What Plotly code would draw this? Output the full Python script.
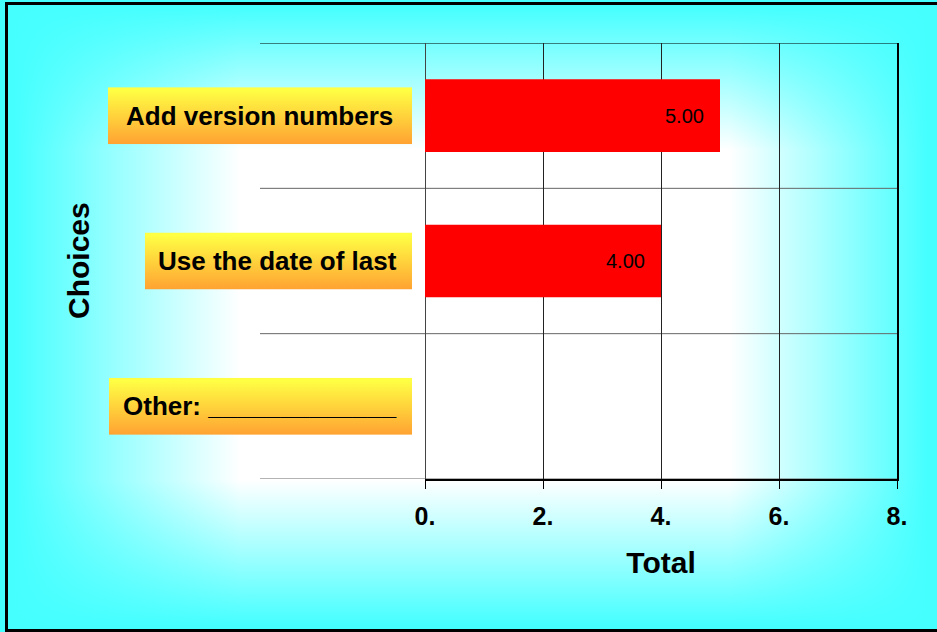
import base64
import plotly.graph_objects as go

# data
choices = ["Add version numbers", "Use the date of last", "Other: _____________"]
totals = [5, 4, 0]
x_ticks = [0, 2, 4, 6, 8]
x_tick_text = ["0.", "2.", "4.", "6.", "8."]

W, H = 937, 632
L, R, T, B = 425, 897, 43, 479          # plot area in pixels
PW, PH = R - L, B - T
FONT = "Liberation Sans, Arial, sans-serif"
CYAN = "#45FFFF"


def px(x):
    return (x - L) / PW


def py(y):
    return (B - y) / PH


def svg_uri(svg):
    return "data:image/svg+xml;base64," + base64.b64encode(svg.encode()).decode()


# white centre fading to cyan towards every edge
ix0, iy0, ix1, iy1 = 240, 150, 730, 480
bg_svg = f"""<svg xmlns="http://www.w3.org/2000/svg" width="{W}" height="{H}" viewBox="0 0 {W} {H}" preserveAspectRatio="none">
<defs>
<linearGradient id="gv" gradientUnits="userSpaceOnUse" x1="0" y1="0" x2="0" y2="{H}">
<stop offset="0.01" stop-color="{CYAN}"/><stop offset="{iy0 / H:.3f}" stop-color="#FFFFFF"/>
<stop offset="{iy1 / H:.3f}" stop-color="#FFFFFF"/><stop offset="0.99" stop-color="{CYAN}"/></linearGradient>
<linearGradient id="gh" gradientUnits="userSpaceOnUse" x1="0" y1="0" x2="{W}" y2="0">
<stop offset="0.015" stop-color="{CYAN}" stop-opacity="1"/><stop offset="{ix0 / W:.3f}" stop-color="{CYAN}" stop-opacity="0"/>
<stop offset="{ix1 / W:.3f}" stop-color="{CYAN}" stop-opacity="0"/><stop offset="0.99" stop-color="{CYAN}" stop-opacity="1"/></linearGradient>
</defs>
<rect x="0" y="0" width="{W}" height="{H}" fill="url(#gv)"/>
<rect x="0" y="0" width="{W}" height="{H}" fill="url(#gh)"/>
</svg>"""

box_svg = """<svg xmlns="http://www.w3.org/2000/svg" width="100" height="100" viewBox="0 0 100 100" preserveAspectRatio="none">
<defs><linearGradient id="g" x1="0" y1="0" x2="0" y2="1"><stop offset="0.05" stop-color="#FFFF44"/><stop offset="1" stop-color="#FFA232"/></linearGradient></defs>
<rect x="0" y="0" width="100" height="100" fill="url(#g)"/></svg>"""

n = len(choices)
ypos = [n - 1 - i for i in range(n)]
cat_px = PH / n
box_right = 412
box_widths = [304, 267, 303]
box_h = 57

fig = go.Figure()
fig.add_trace(go.Bar(
    x=totals, y=ypos, orientation="h", width=0.5,
    marker=dict(color="#FF0000", line=dict(width=0)),
    hoverinfo="skip", showlegend=False,
))

images = [dict(source=svg_uri(bg_svg), xref="paper", yref="paper",
               x=px(0), y=py(0), sizex=W / PW, sizey=H / PH,
               xanchor="left", yanchor="top", sizing="stretch", layer="below")]
annotations = []
for i, name in enumerate(choices):
    bw = box_widths[i]
    images.append(dict(source=svg_uri(box_svg), xref="paper", yref="y",
                       x=px(box_right - bw), y=ypos[i], sizex=bw / PW,
                       sizey=box_h / cat_px, xanchor="left", yanchor="middle",
                       sizing="stretch", layer="above"))
    annotations.append(dict(text=name, xref="paper", yref="y",
                            x=px(box_right - bw / 2 - 1), y=ypos[i], showarrow=False,
                            xanchor="center", yanchor="middle",
                            font=dict(family=FONT, size=26, color="black", weight="bold")))
    if totals[i] > 0:
        annotations.append(dict(text=f"{totals[i]:.2f}", xref="x", yref="y",
                                x=totals[i], y=ypos[i], xshift=-14, showarrow=False,
                                xanchor="right", yanchor="middle",
                                font=dict(family=FONT, size=20, color="black")))

annotations.append(dict(text="Choices", xref="paper", yref="paper",
                        x=px(78), y=0.5, textangle=-90, showarrow=False,
                        xanchor="center", yanchor="middle",
                        font=dict(family=FONT, size=30, color="black", weight="bold")))

shapes = []
for k in range(n + 1):
    shapes.append(dict(type="line", xref="paper", yref="y", x0=px(260), x1=1,
                       y0=k - 0.5, y1=k - 0.5, layer="below",
                       line=dict(color="black" if k == n else "#666666", width=1)))
shapes.append(dict(type="rect", xref="paper", yref="paper",
                   x0=px(6.5), x1=px(960), y0=py(3.5), y1=py(630.5),
                   line=dict(color="black", width=3), layer="above"))

fig.update_layout(
    width=W, height=H, autosize=False,
    margin=dict(l=L, r=W - R, t=T, b=H - B),
    paper_bgcolor="white", plot_bgcolor="rgba(0,0,0,0)",
    images=images, annotations=annotations, shapes=shapes,
    font=dict(family=FONT, color="black"),
    bargap=0.5,
)
fig.update_xaxes(
    range=[0, 8], tickvals=x_ticks, ticktext=x_tick_text,
    tickfont=dict(family=FONT, size=25, color="black", weight="bold"),
    ticks="outside", ticklen=8, tickcolor="black", tickwidth=1,
    ticklabelstandoff=6,
    showgrid=True, gridcolor="#222222", gridwidth=1,
    zeroline=True, zerolinecolor="#444444", zerolinewidth=1,
    showline=True, linecolor="black", linewidth=2,
    title=dict(text="Total", standoff=23,
               font=dict(family=FONT, size=30, color="black", weight="bold")),
    fixedrange=True,
)
fig.update_yaxes(
    range=[-0.5, n - 0.5], showticklabels=False, showgrid=False, zeroline=False,
    side="right", showline=True, linecolor="black", linewidth=2, ticks="",
    fixedrange=True,
)

# the page is photographed from its top-left corner, so drop the default body margin
fig.write_html("out.html", config={"displayModeBar": False},
               post_script="document.body.style.margin = '0';")
